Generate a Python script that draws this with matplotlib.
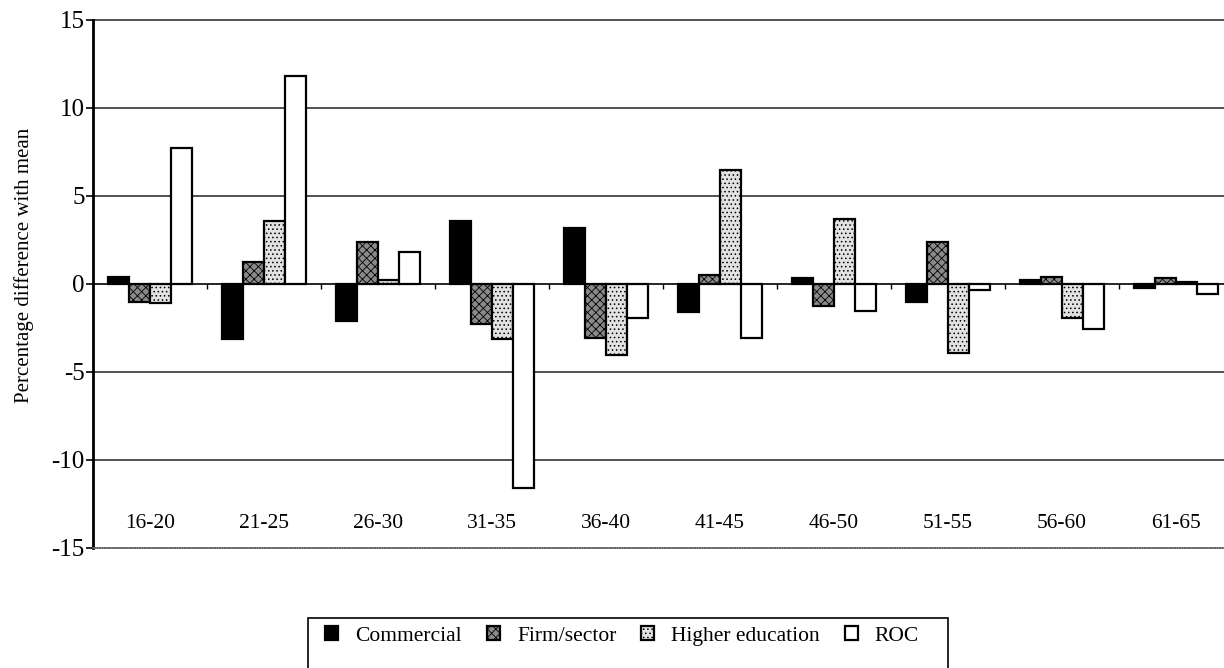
import numpy as np
import matplotlib
matplotlib.use("Agg")
import matplotlib.pyplot as plt
from matplotlib.patches import Rectangle

plt.rcParams["font.family"] = ["Liberation Serif", "DejaVu Serif"]
plt.rcParams["hatch.linewidth"] = 0.6

age_groups = ["16-20", "21-25", "26-30", "31-35", "36-40",
              "41-45", "46-50", "51-55", "56-60", "61-65"]
series_names = ["Commercial", "Firm/sector", "Higher education", "ROC"]

commercial = [0.4, -3.1, -2.1, 3.6, 3.2, -1.6, 0.35, -1.0, 0.25, -0.25]
firm_sector = [-1.0, 1.25, 2.4, -2.3, -3.05, 0.5, -1.25, 2.4, 0.4, 0.35]
higher_education = [-1.1, 3.6, 0.2, -3.1, -4.05, 6.5, 3.7, -3.9, -1.95, 0.1]
roc = [7.7, 11.8, 1.8, -11.6, -1.95, -3.05, -1.55, -0.35, -2.55, -0.55]

y_ticks = [-15, -10, -5, 0, 5, 10, 15]

# fill / hatch per series: solid black, dark stipple, light stipple, white
styles = [
    dict(facecolor="black", hatch=None),
    dict(facecolor="#8a8a8a", hatch="xxxx"),
    dict(facecolor="#e2e2e2", hatch="...."),
    dict(facecolor="white", hatch=None),
]

fig = plt.figure(figsize=(12.24, 6.68), dpi=100)
ax = fig.add_axes([93 / 1224, 1 - 548 / 668, (1233 - 93) / 1224, 528 / 668])

x = np.arange(len(age_groups))
width = 21 / 114
all_series = [commercial, firm_sector, higher_education, roc]

# horizontal reference lines
for t in y_ticks:
    if t in (0, -15):
        continue
    ax.axhline(t, color="#222222", lw=1.1, zorder=1, clip_on=False)

bar_handles = []
for k, (name, vals, st) in enumerate(zip(series_names, all_series, styles)):
    bars = ax.bar(x + (k - 1.5) * width, vals, width, label=name,
                  facecolor=st["facecolor"], hatch=st["hatch"],
                  edgecolor="black", linewidth=1.6, zorder=3)
    bar_handles.append(bars)

ax.axhline(0, color="black", lw=1.2, zorder=2)
# small separators between groups on the zero line
ax.vlines(x[:-1] + 0.5, -0.3, 0, color="black", lw=1.0, zorder=2)

ax.set_xlim(-0.5, len(age_groups) - 0.5)
ax.set_ylim(-15, 15)
ax.set_yticks(y_ticks)
ax.set_yticklabels([str(t) for t in y_ticks], fontsize=18)
ax.tick_params(axis="y", length=5, width=1.2, pad=1)
ax.set_xticks([])

for xi, lab in zip(x, age_groups):
    ax.text(xi, -13.6, lab, ha="center", va="center", fontsize=15.5)

ax.set_ylabel("Percentage difference with mean", fontsize=15)
ax.yaxis.set_label_coords(-0.052, 0.535)

ax.spines["top"].set_visible(False)
ax.spines["right"].set_visible(False)
ax.spines["left"].set_linewidth(2.0)
ax.spines["bottom"].set_color("#666666")
ax.spines["bottom"].set_linestyle((0, (1, 0.5)))
ax.spines["bottom"].set_linewidth(1.2)

# legend box runs off the bottom edge
fig.patches.append(Rectangle((308 / 1224, -0.05), (948 - 308) / 1224, 0.05 + 50 / 668,
                             transform=fig.transFigure, facecolor="white",
                             edgecolor="black", lw=1.2))
fig.legend(handles=bar_handles, labels=series_names, ncol=4, frameon=False,
           loc="center left", bbox_to_anchor=(306 / 1224, 1 - 636 / 668),
           fontsize=15.5, handlelength=0.6, handleheight=0.6,
           handletextpad=0.8, columnspacing=1.15)

fig.savefig("out.png", dpi=100)
